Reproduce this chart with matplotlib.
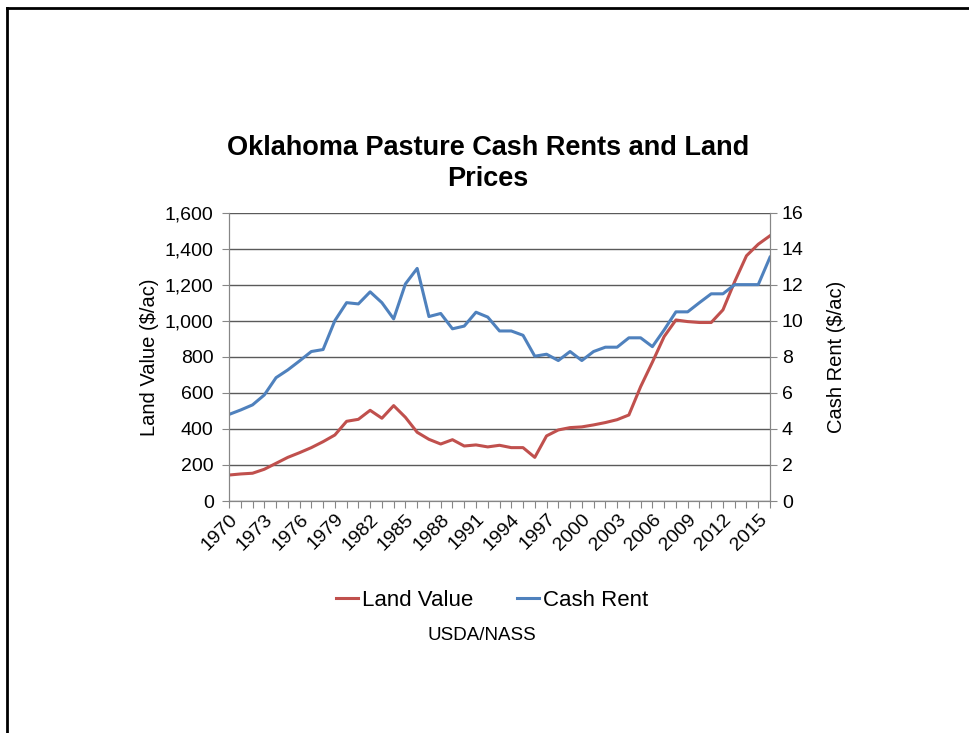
import matplotlib.pyplot as plt
from matplotlib.lines import Line2D

plt.rcParams['font.family'] = ['Liberation Sans', 'DejaVu Sans']

years = list(range(1970, 2017))
land_value = [144, 150, 154, 176, 209, 242, 268, 296, 329, 366,
              442, 453, 503, 459, 529, 464, 381, 342, 316, 340,
              305, 311, 300, 309, 296, 296, 242, 361, 394, 407,
              411, 422, 435, 451, 477, 634, 770, 912, 1004, 995,
              990, 990, 1060, 1217, 1360, 1424, 1471]
cash_rent = [4.8, 5.05, 5.33, 5.88, 6.84, 7.27, 7.77, 8.29, 8.4, 10.0,
             11.0, 10.93, 11.6, 11.0, 10.1, 12.04, 12.9, 10.23, 10.4, 9.55,
             9.7, 10.47, 10.2, 9.43, 9.43, 9.19, 8.03, 8.14, 7.79, 8.29,
             7.79, 8.29, 8.53, 8.53, 9.05, 9.05, 8.56, 9.49, 10.49, 10.49,
             11.0, 11.49, 11.49, 12.0, 12.0, 12.0, 13.52]
left_ticks = [0, 200, 400, 600, 800, 1000, 1200, 1400, 1600]
right_ticks = [0, 2, 4, 6, 8, 10, 12, 14, 16]

red = '#C0504D'
blue = '#4F81BD'
gray = '#868686'

fig = plt.figure(figsize=(9.7, 7.33), dpi=100)
ax = fig.add_axes([229/970, 1-501/733, 541/970, 288.5/733])
ax2 = ax.twinx()

ax.plot(years, land_value, color=red, lw=2.2, label='Land Value', solid_joinstyle='round')
ax2.plot(years, cash_rent, color=blue, lw=2.2, label='Cash Rent', solid_joinstyle='round')

ax.set_xlim(1970, 2016)
ax.set_ylim(0, 1600)
ax2.set_ylim(0, 16)
ax.set_yticks(left_ticks)
ax.set_yticklabels(['{:,}'.format(v) for v in left_ticks], fontsize=14)
ax2.set_yticks(right_ticks)
ax2.set_yticklabels([str(v) for v in right_ticks], fontsize=14)
ax.set_xticks(years)
ax.set_xticklabels([str(y) if (y - 1970) % 3 == 0 else '' for y in years],
                   rotation=45, ha='right', rotation_mode='anchor', fontsize=14)

ax.yaxis.grid(True, color='#5a5a5a', lw=1.0)
ax.set_axisbelow(True)
for a in (ax, ax2):
    a.spines['top'].set_visible(False)
    for s in ('left', 'right', 'bottom'):
        a.spines[s].set_color(gray)
    a.tick_params(colors=gray, labelcolor='black', length=5, direction='out')
ax.tick_params(axis='x', length=5, pad=2)
ax.tick_params(axis='y', pad=6)

ax.set_ylabel('Land Value ($/ac)', fontsize=14.5, labelpad=4)
ax2.set_ylabel('Cash Rent ($/ac)', fontsize=14.5, labelpad=17)

fig.text(488/970, 1-148/733, 'Oklahoma Pasture Cash Rents and Land', ha='center', va='center',
         fontsize=19.5, fontweight='bold')
fig.text(488/970, 1-179/733, 'Prices', ha='center', va='center', fontsize=19.5, fontweight='bold')

h1, l1 = ax.get_legend_handles_labels()
h2, l2 = ax2.get_legend_handles_labels()
fig.legend(h1 + h2, l1 + l2, loc='center', bbox_to_anchor=(492/970, 1-600/733), ncol=2,
           frameon=False, fontsize=16, handlelength=1.0, handletextpad=0.15, columnspacing=2.0)
fig.text(482/970, 1-636/733, 'USDA/NASS', ha='center', va='center', fontsize=13.5)

# slide frame, only top and left edges visible
fig.add_artist(Line2D([7/970, 7/970], [0, 1-8/733], color='black', lw=2))
fig.add_artist(Line2D([7/970, 1], [1-8/733, 1-8/733], color='black', lw=2))

fig.savefig('out.png', dpi=100)
